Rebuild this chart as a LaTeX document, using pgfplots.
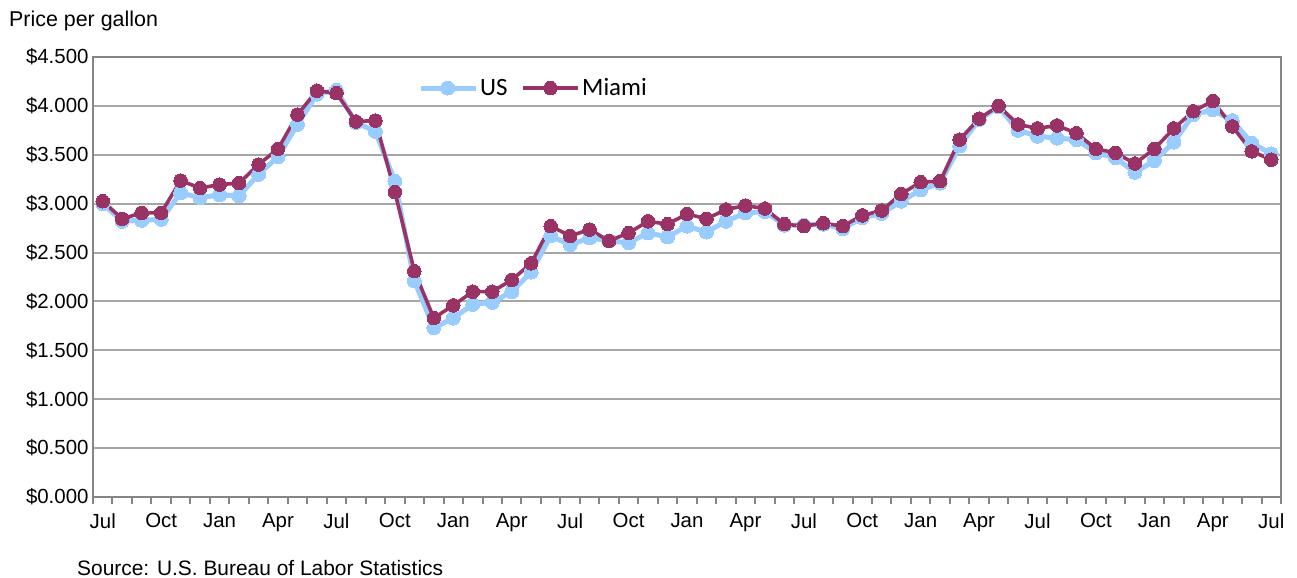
\documentclass[border=0pt]{standalone}
\usepackage{pgfplots}
\pgfplotsset{compat=1.18}
\usepackage{fontspec}
\setmainfont{Liberation Sans}
\newfontfamily\legendfont{Carlito}
\definecolor{usblue}{HTML}{99CCFF}
\definecolor{miami}{HTML}{993366}
\definecolor{gridgray}{HTML}{A6A6A6}
\definecolor{axgray}{HTML}{868686}
\begin{document}
\begin{tikzpicture}
\useasboundingbox (0,0) rectangle (1297bp,578bp);
\begin{axis}[
  at={(93bp,81bp)}, anchor=south west,
  scale only axis, width=1188bp, height=440bp,
  xmin=-0.5, xmax=60.5, ymin=0, ymax=4.5,
  axis line style={axgray, line width=2.5bp},
  ymajorgrids, grid style={gridgray, line width=2bp},
  ytick={0,0.5,...,4.5},
  yticklabels={\$0.000,\$0.500,\$1.000,\$1.500,\$2.000,\$2.500,\$3.000,\$3.500,\$4.000,\$4.500},
  xtick={0,3,...,60},
  xticklabels={Jul,Oct,Jan,Apr,Jul,Oct,Jan,Apr,Jul,Oct,Jan,Apr,Jul,Oct,Jan,Apr,Jul,Oct,Jan,Apr,Jul},
  minor xtick={-0.5,0.5,...,60.5},
  tick pos=left, tick align=outside,
  major tick length=0pt, minor tick length=7bp,
  minor tick style={axgray, line width=2bp},
  every tick label/.append style={font=\fontsize{20.5}{24}\selectfont},
  /pgf/number format/assume math mode=true,
  yticklabel style={xshift=-1bp},
  xticklabel style={yshift=-13bp},
  legend columns=2,
  legend style={at={(0.2736,0.9295)}, anchor=west, draw=none, fill=none,
    font=\legendfont\fontsize{25}{28}\selectfont, inner sep=0pt,
    /tikz/every even column/.append style={column sep=12bp}},
  legend image code/.code={\draw[mark repeat=2,mark phase=2,#1] plot coordinates {(0bp,0bp) (27bp,0bp) (55bp,0bp)};},
]
\addplot[usblue, line width=5bp, mark=*, mark size=7bp, mark options={fill=usblue, draw=usblue, line width=0pt}] coordinates {
(0,3.00) (1,2.82) (2,2.83) (3,2.84) (4,3.11) (5,3.06) (6,3.09) (7,3.08) (8,3.30) (9,3.48)
(10,3.81) (11,4.12) (12,4.16) (13,3.83) (14,3.74) (15,3.23) (16,2.21) (17,1.73) (18,1.83) (19,1.97)
(20,1.99) (21,2.10) (22,2.30) (23,2.67) (24,2.58) (25,2.65) (26,2.62) (27,2.60) (28,2.70) (29,2.66)
(30,2.77) (31,2.71) (32,2.82) (33,2.905) (34,2.92) (35,2.78) (36,2.78) (37,2.79) (38,2.745) (39,2.855)
(40,2.90) (41,3.025) (42,3.14) (43,3.21) (44,3.59) (45,3.86) (46,3.99) (47,3.75) (48,3.69) (49,3.67)
(50,3.655) (51,3.52) (52,3.47) (53,3.32) (54,3.44) (55,3.63) (56,3.91) (57,3.96) (58,3.85) (59,3.62)
(60,3.51)};
\addlegendentry{US}
\addplot[miami, line width=3.6bp, mark=*, mark size=6.8bp, mark options={fill=miami, draw=miami, line width=0pt}] coordinates {
(0,3.025) (1,2.845) (2,2.906) (3,2.906) (4,3.236) (5,3.16) (6,3.195) (7,3.21) (8,3.40) (9,3.56)
(10,3.91) (11,4.156) (12,4.13) (13,3.84) (14,3.85) (15,3.12) (16,2.31) (17,1.83) (18,1.96) (19,2.10)
(20,2.10) (21,2.22) (22,2.39) (23,2.77) (24,2.67) (25,2.735) (26,2.62) (27,2.70) (28,2.82) (29,2.79)
(30,2.895) (31,2.845) (32,2.94) (33,2.98) (34,2.95) (35,2.79) (36,2.77) (37,2.80) (38,2.77) (39,2.88)
(40,2.93) (41,3.10) (42,3.22) (43,3.23) (44,3.655) (45,3.87) (46,4.00) (47,3.81) (48,3.77) (49,3.80)
(50,3.72) (51,3.56) (52,3.52) (53,3.41) (54,3.56) (55,3.77) (56,3.945) (57,4.05) (58,3.79) (59,3.535)
(60,3.45)};
\addlegendentry{Miami}
\end{axis}
\node[anchor=west, inner sep=0pt, font=\fontsize{21.5}{24}\selectfont] at (9bp,557bp) {Price per gallon};
\node[anchor=west, inner sep=0pt, font=\fontsize{21}{24}\selectfont] at (77bp,10bp) {Source: U.S. Bureau of Labor Statistics};
\end{tikzpicture}
\end{document}
